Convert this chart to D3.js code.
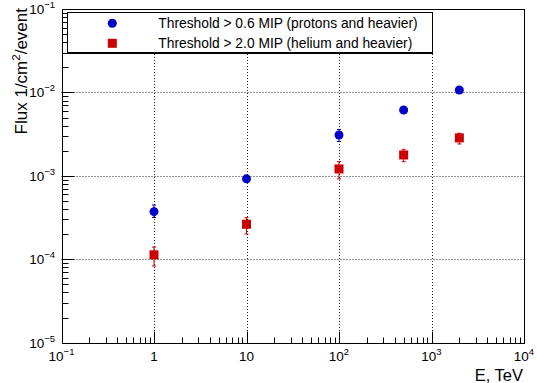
<!DOCTYPE html>
<html>
<head>
<meta charset="utf-8">
<script src="https://cdn.jsdelivr.net/npm/d3@7"></script>
<style>
html,body{margin:0;padding:0;background:#fff;}
svg{display:block;font-family:"Liberation Sans",Arial,Helvetica,sans-serif;}
</style>
</head>
<body>
<svg id="chart" width="537" height="383"></svg>
<script>
// ---- data ----
const energies = [1, 10, 100, 500, 2000];               // E, TeV
const protonFlux = [3.72e-4, 9.2e-4, 3.09e-3, 6.15e-3, 1.07e-2];
const protonLow  = [3.17e-4, 8.4e-4, 2.58e-3, 5.8e-3, 1.02e-2];
const protonHigh = [4.48e-4, 1.0e-3, 3.60e-3, 6.5e-3, 1.12e-2];
const heliumFlux = [1.13e-4, 2.63e-4, 1.21e-3, 1.78e-3, 2.85e-3];
const heliumLow  = [8.3e-5, 2.01e-4, 9.2e-4, 1.48e-3, 2.41e-3];
const heliumHigh = [1.40e-4, 3.15e-4, 1.48e-3, 2.08e-3, 3.24e-3];
const seriesNames = ["Threshold > 0.6 MIP (protons and heavier)", "Threshold > 2.0 MIP (helium and heavier)"];
const xTickValues = [1e-1, 1, 10, 100, 1000, 10000];
const xTickBase = ["10", "1", "10", "10", "10", "10"];
const xTickExp  = ["\u22121", "", "", "2", "3", "4"];
const yTickValues = [1e-5, 1e-4, 1e-3, 1e-2, 1e-1];
const yTickBase = ["10", "10", "10", "10", "10"];
const yTickExp  = ["\u22125", "\u22124", "\u22123", "\u22122", "\u22121"];
const xTitle = "E, TeV";
const yTitleParts = ["Flux 1/cm", "2", "/event"];

// ---- layout ----
const L = 61.5, R = 524, T = 9, B = 342.7;
const svg = d3.select("#chart");
const x = d3.scaleLog().domain([1e-1, 1e4]).range([L, R]);
const y = d3.scaleLog().domain([1e-5, 1e-1]).range([B, T]);

const blue = "#0000cc", red = "#cc0000";

// grid
const g = svg.append("g");
g.selectAll("line.gx").data(xTickValues.slice(1, -1)).join("line")
  .attr("x1", d => Math.round(x(d)) + 0.5).attr("x2", d => Math.round(x(d)) + 0.5)
  .attr("y1", T).attr("y2", B)
  .attr("stroke", "#222").attr("stroke-width", 1).attr("stroke-dasharray", "1,2");
g.selectAll("line.gy").data(yTickValues.slice(1, -1)).join("line")
  .attr("y1", d => Math.round(y(d)) + 0.5).attr("y2", d => Math.round(y(d)) + 0.5)
  .attr("x1", L).attr("x2", R)
  .attr("stroke", "#222").attr("stroke-width", 1).attr("stroke-dasharray", "1,2");

// frame
svg.append("rect").attr("x", Math.round(L) + 0.5).attr("y", Math.round(T) + 0.5)
  .attr("width", Math.round(R) - Math.round(L)).attr("height", Math.round(B) - Math.round(T))
  .attr("fill", "none").attr("stroke", "#000").attr("stroke-width", 1);

// ticks (inside)
const xMinor = x.ticks().filter(v => !xTickValues.some(t => Math.abs(t - v) / t < 1e-9));
const yMinor = y.ticks().filter(v => !yTickValues.some(t => Math.abs(t - v) / t < 1e-9));
const by = Math.round(B) + 0.5, lx = Math.round(L) + 0.5;
svg.append("g").selectAll("line").data(xTickValues).join("line")
  .attr("x1", d => Math.round(x(d)) + 0.5).attr("x2", d => Math.round(x(d)) + 0.5)
  .attr("y1", by).attr("y2", by - 12).attr("stroke", "#000");
svg.append("g").selectAll("line").data(xMinor).join("line")
  .attr("x1", d => Math.round(x(d)) + 0.5).attr("x2", d => Math.round(x(d)) + 0.5)
  .attr("y1", by).attr("y2", by - 6).attr("stroke", "#000");
svg.append("g").selectAll("line").data(yTickValues).join("line")
  .attr("y1", d => Math.round(y(d)) + 0.5).attr("y2", d => Math.round(y(d)) + 0.5)
  .attr("x1", lx).attr("x2", lx + 12).attr("stroke", "#000");
svg.append("g").selectAll("line").data(yMinor).join("line")
  .attr("y1", d => Math.round(y(d)) + 0.5).attr("y2", d => Math.round(y(d)) + 0.5)
  .attr("x1", lx).attr("x2", lx + 6).attr("stroke", "#000");

// tick labels
const xl = svg.append("g").selectAll("text").data(xTickValues).join("text")
  .attr("x", d => x(d)).attr("y", 361).attr("text-anchor", "middle")
  .attr("font-size", 13.5).attr("fill", "#000");
xl.append("tspan").text((d, i) => xTickBase[i]);
xl.append("tspan").attr("font-size", 9.5).attr("dy", -6).text((d, i) => xTickExp[i]);

const yl = svg.append("g").selectAll("text").data(yTickValues).join("text")
  .attr("x", 55).attr("y", d => y(d) + 5).attr("text-anchor", "end")
  .attr("font-size", 13.5).attr("fill", "#000");
yl.append("tspan").text((d, i) => yTickBase[i]);
yl.append("tspan").attr("font-size", 9.5).attr("dy", -6).text((d, i) => yTickExp[i]);

// axis titles
svg.append("text").attr("x", 523).attr("y", 381).attr("text-anchor", "end")
  .attr("font-size", 16.5).text(xTitle);
const yt = svg.append("text").attr("transform", "translate(27,8) rotate(-90)")
  .attr("text-anchor", "end").attr("font-size", 17);
yt.append("tspan").text(yTitleParts[0]);
yt.append("tspan").attr("font-size", 11.5).attr("dy", -7).text(yTitleParts[1]);
yt.append("tspan").attr("dy", 7).text(yTitleParts[2]);

// error bars
function errBars(flux, lo, hi, color) {
  const eg = svg.append("g").attr("stroke", color).attr("stroke-width", 1);
  eg.selectAll("line.v").data(energies).join("line")
    .attr("x1", d => x(d)).attr("x2", d => x(d))
    .attr("y1", (d, i) => y(hi[i])).attr("y2", (d, i) => y(lo[i]));
  eg.selectAll("line.t").data(energies).join("line")
    .attr("x1", d => x(d) - 2).attr("x2", d => x(d) + 2)
    .attr("y1", (d, i) => y(hi[i])).attr("y2", (d, i) => y(hi[i]));
  eg.selectAll("line.b").data(energies).join("line")
    .attr("x1", d => x(d) - 2).attr("x2", d => x(d) + 2)
    .attr("y1", (d, i) => y(lo[i])).attr("y2", (d, i) => y(lo[i]));
}
errBars(protonFlux, protonLow, protonHigh, blue);
errBars(heliumFlux, heliumLow, heliumHigh, red);

// markers
svg.append("g").selectAll("circle").data(energies).join("circle")
  .attr("cx", d => x(d)).attr("cy", (d, i) => y(protonFlux[i])).attr("r", 4.5).attr("fill", blue);
svg.append("g").selectAll("rect").data(energies).join("rect")
  .attr("x", d => x(d) - 4.5).attr("y", (d, i) => y(heliumFlux[i]) - 4.5)
  .attr("width", 9).attr("height", 9).attr("fill", red);

// legend
const lg = svg.append("g");
lg.append("rect").attr("x", 67.5).attr("y", 12.5).attr("width", 365).attr("height", 40)
  .attr("fill", "#fff").attr("stroke", "#000").attr("stroke-width", 1);
lg.append("line").attr("x1", 68).attr("x2", 433).attr("y1", 53.5).attr("y2", 53.5).attr("stroke", "#000").attr("stroke-width", 1);
lg.append("circle").attr("cx", 112.3).attr("cy", 23.3).attr("r", 4.5).attr("fill", blue);
lg.append("rect").attr("x", 112.3 - 4.5).attr("y", 43.3 - 4.5).attr("width", 9).attr("height", 9).attr("fill", red);
lg.selectAll("text").data(seriesNames).join("text")
  .attr("x", 158.3).attr("y", (d, i) => 28.3 + 20 * i).attr("font-size", 13.8).text(d => d);
</script>
</body>
</html>
